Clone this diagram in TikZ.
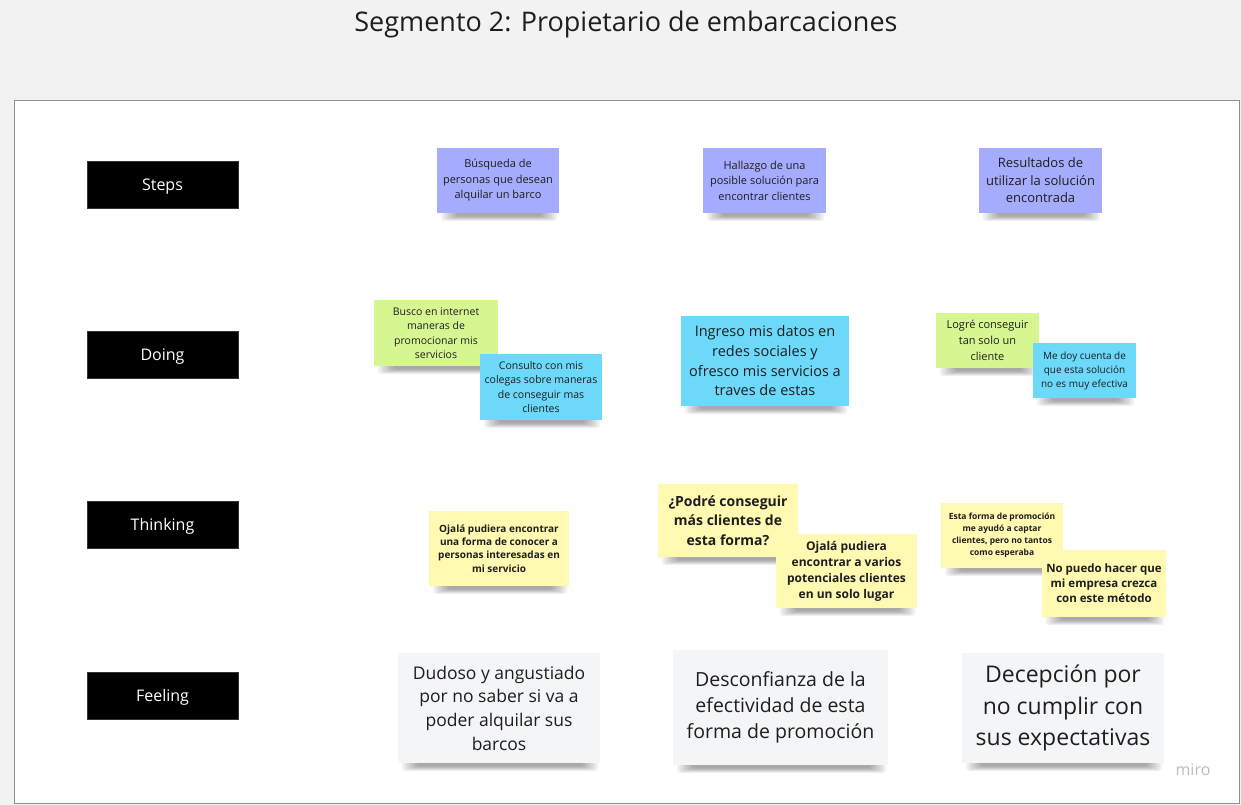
\documentclass[tikz,border=0pt]{standalone}
\usepackage{fontspec}
\setmainfont{Open Sans}
\definecolor{bgc}{HTML}{F2F2F2}
\definecolor{framec}{HTML}{8E8E8E}
\definecolor{purp}{HTML}{A6ACFD}
\definecolor{grn}{HTML}{D6F692}
\definecolor{blu}{HTML}{6CD8FA}
\definecolor{yel}{HTML}{FFF9B1}
\definecolor{gry}{HTML}{F4F5F7}
\definecolor{txt}{HTML}{1E1E1E}
\definecolor{logo}{HTML}{BDBDBD}
\tikzset{
  note/.style={inner sep=0pt, align=center, text=txt},
  lab/.style={fill=black, draw=black!80, inner sep=0pt, minimum width=151pt, minimum height=47pt, text depth=0pt, text=white, font=\fontsize{16}{20}\selectfont},
  shad/.style={black, opacity=.055, rounded corners=3pt},
}
\newcommand\sticky[8]{%
  \foreach \k in {0,...,6}{%
    \fill[shad] ({#2+4+2.5*\k},{#5-2}) rectangle ({#4-2-2.5*\k},{#5+8-0.8*\k});
  }%
  \node[note,fill=#6,minimum width={#4-#2},minimum height={#5-#3},font=#7] (#1) at ({(#2+#4)/2},{(#3+#5)/2}) {#8};
}
\begin{document}
\begin{tikzpicture}[x=1pt,y=-1pt]
\useasboundingbox (0,0) rectangle (1241,805);
\fill[bgc] (0,0) rectangle (1241,805);
\draw[framec,line width=1.5pt,fill=white] (14.5,100.5) rectangle (1239.5,803.5);
\node[text=txt,font=\fontsize{27}{32}\selectfont] (title) at (626,24) {Segmento 2: Propietario de embarcaciones};
% row labels
\node[lab] (steps) at (162.5,184.5) {Steps};
\node[lab] (doing) at (162.5,354.5) {Doing};
\node[lab] (thinking) at (162.5,524.5) {Thinking};
\node[lab] (feeling) at (162.5,695.5) {Feeling};
% steps
\sticky{s1}{437}{148}{559}{213}{purp}{\fontsize{11}{15.5}\selectfont}{Búsqueda de\\personas que desean\\alquilar un barco}
\sticky{s2}{703}{148}{826}{213}{purp}{\fontsize{11}{15.5}\selectfont}{Hallazgo de una\\posible solución para\\encontrar clientes}
\sticky{s3}{979}{148}{1102}{213}{purp}{\fontsize{13}{17.5}\selectfont}{Resultados de\\utilizar la solución\\encontrada}
% doing
\sticky{d1}{374}{300}{498}{366}{grn}{\fontsize{10.5}{14.5}\selectfont}{Busco en internet\\maneras de\\promocionar mis\\servicios}
\sticky{d2}{480}{354}{602}{420}{blu}{\fontsize{10.5}{14.5}\selectfont}{Consulto con mis\\colegas sobre maneras\\de conseguir mas\\clientes}
\sticky{d3}{681}{316}{849}{406}{blu}{\fontsize{14.5}{19.7}\selectfont}{Ingreso mis datos en\\redes sociales y\\ofresco mis servicios a\\traves de estas}
\sticky{d4}{936}{313}{1039}{368}{grn}{\fontsize{11}{16}\selectfont}{Logré conseguir\\tan solo un\\cliente}
\sticky{d5}{1033}{343}{1136}{398}{blu}{\fontsize{10}{14}\selectfont}{Me doy cuenta de\\que esta solución\\no es muy efectiva}
% thinking
\sticky{t1}{429}{511}{569}{586}{yel}{\bfseries\fontsize{10}{13.3}\selectfont}{Ojalá pudiera encontrar\\una forma de conocer a\\personas interesadas en\\mi servicio}
\sticky{t2}{658}{484}{798}{557}{yel}{\bfseries\fontsize{14}{19.5}\selectfont}{¿Podré conseguir\\más clientes de\\esta forma?}
\sticky{t3}{776}{534}{917}{608}{yel}{\bfseries\fontsize{12}{16}\selectfont}{Ojalá pudiera\\encontrar a varios\\potenciales clientes\\en un solo lugar}
\sticky{t4}{941}{503}{1063}{568}{yel}{\bfseries\fontsize{8.5}{12}\selectfont}{Esta forma de promoción\\me ayudó a captar\\clientes, pero no tantos\\como esperaba}
\sticky{t5}{1042}{550}{1166}{617}{yel}{\bfseries\fontsize{11.5}{15}\selectfont}{No puedo hacer que\\mi empresa crezca\\con este método}
% feeling
\sticky{f1}{398}{653}{600}{763}{gry}{\fontsize{17.5}{23.7}\selectfont}{Dudoso y angustiado\\por no saber si va a\\poder alquilar sus\\barcos}
\sticky{f2}{673}{650}{888}{765}{gry}{\fontsize{19.5}{26}\selectfont}{Desconfianza de la\\efectividad de esta\\forma de promoción}
\sticky{f3}{962}{653}{1164}{763}{gry}{\fontsize{23}{31.5}\selectfont}{Decepción por\\no cumplir con\\sus expectativas}
\node[text=logo,font=\fontsize{16}{18}\selectfont] (miro) at (1193,770) {miro};
\end{tikzpicture}
\end{document}
